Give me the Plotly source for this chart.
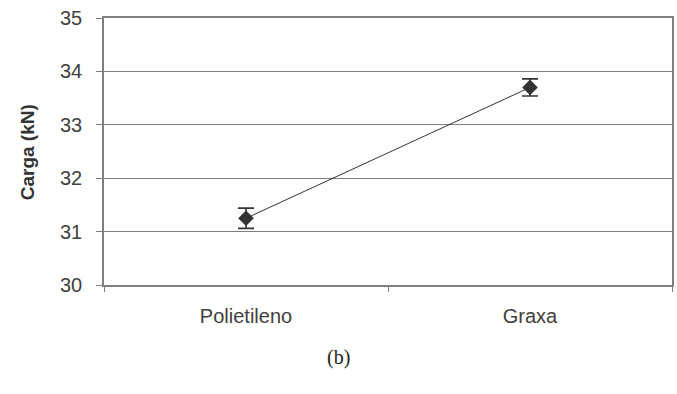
import plotly.graph_objects as go

categories = ["Polietileno", "Graxa"]
carga = [31.25, 33.70]
erro = [0.19, 0.16]
y_ticks = [30, 31, 32, 33, 34, 35]

PLOT_L, PLOT_R, PLOT_T, PLOT_B = 104, 674, 18, 285
W, H = 677, 394
plot_w = PLOT_R - PLOT_L
plot_h = PLOT_B - PLOT_T

fig = go.Figure()
fig.add_trace(go.Scatter(
    x=categories, y=carga,
    mode="lines+markers",
    line=dict(color="#333333", width=1),
    marker=dict(symbol="diamond", size=12, color="#333333"),
    error_y=dict(type="data", array=erro, visible=True,
                 color="#333333", thickness=1.6, width=8),
    showlegend=False,
))

fig.update_layout(
    width=W, height=H,
    margin=dict(l=PLOT_L, r=W - PLOT_R, t=PLOT_T, b=H - PLOT_B),
    paper_bgcolor="white", plot_bgcolor="white",
    font=dict(family="Liberation Sans, Arial, sans-serif", color="#404040"),
    xaxis=dict(
        type="category", tickson="boundaries",
        ticks="outside", ticklen=5, tickcolor="#808080",
        showline=True, linecolor="#808080", linewidth=1.5, mirror=True,
        showgrid=False, tickfont=dict(size=20, color="#404040"),
        ticklabelstandoff=12,
        range=[-0.5, 1.5],
    ),
    yaxis=dict(
        range=[30, 35], tickvals=y_ticks,
        ticks="outside", ticklen=6, tickcolor="#808080",
        showline=True, linecolor="#808080", linewidth=1.5, mirror=True,
        showgrid=True, gridcolor="#808080", gridwidth=1,
        tickfont=dict(size=20, color="#404040"),
        ticklabelstandoff=10,
    ),
)

# vertical axis title
fig.add_annotation(
    text="<b>Carga (kN)</b>", textangle=-90,
    xref="paper", yref="paper",
    x=(27 - PLOT_L) / plot_w, y=(PLOT_B - 152) / plot_h,
    showarrow=False, xanchor="center", yanchor="middle",
    font=dict(size=19, color="#333333"),
)

# panel caption
fig.add_annotation(
    text="(b)", xref="paper", yref="paper",
    x=(339 - PLOT_L) / plot_w, y=-(357 - PLOT_B) / plot_h,
    showarrow=False, xanchor="center", yanchor="middle",
    font=dict(family="Liberation Serif, Times New Roman, serif", size=20, color="#222222"),
)

fig.write_html("out.html")
